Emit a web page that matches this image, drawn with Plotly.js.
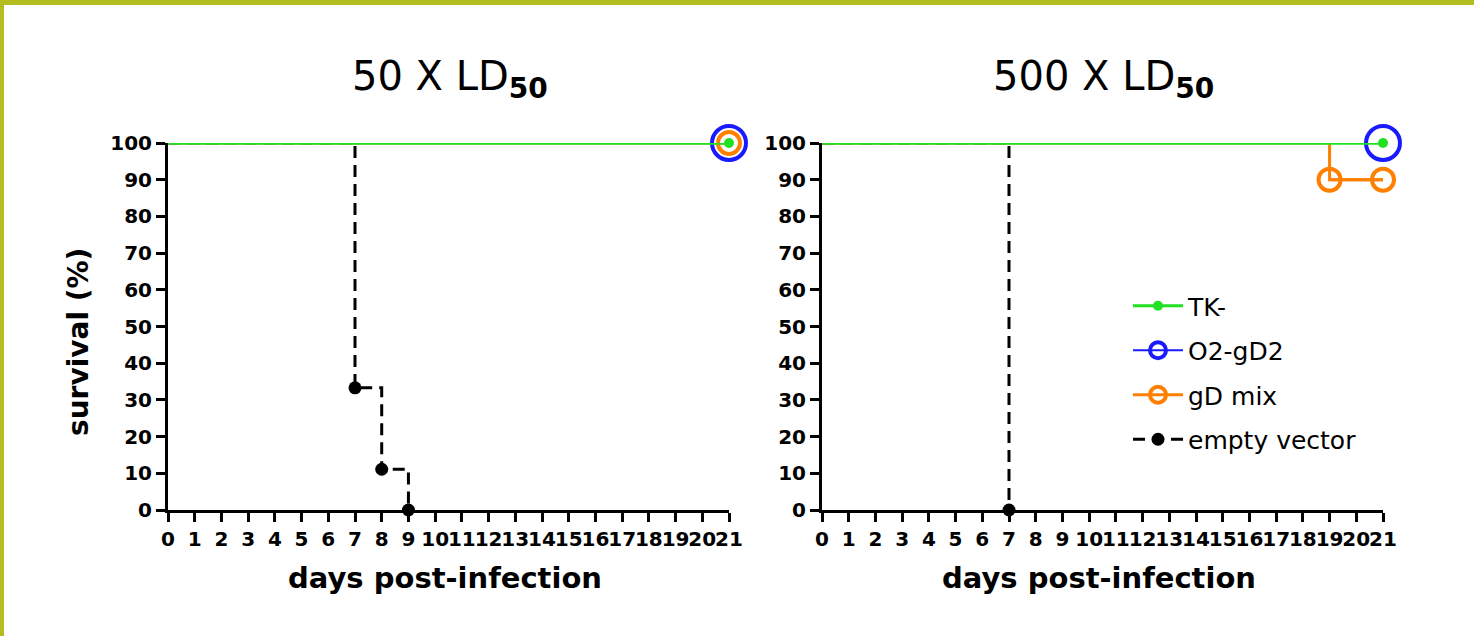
<!DOCTYPE html>
<html>
<head>
<meta charset="utf-8">
<script src="https://cdn.plot.ly/plotly-3.0.1.min.js"></script>
<style>
  html, body { margin: 0; padding: 0; background: #fff; }
  #wrap { position: relative; width: 1474px; height: 636px; overflow: hidden; }
  #chart { position: absolute; left: 0; top: 0; width: 1474px; height: 636px; }
  #bt { position: absolute; left: 0; top: 0; width: 1474px; height: 5px; background: #b3bd1f; }
  #bl { position: absolute; left: 0; top: 0; width: 4px; height: 636px; background: #b3bd1f; }
</style>
</head>
<body>
<div id="wrap"><div id="chart"></div><div id="bt"></div><div id="bl"></div></div>
<script>
// ---- data ----
const panelTitles = ["50 X LD<sub><b>50</b></sub>", "500 X LD<sub><b>50</b></sub>"];
const xTitle = "days post-infection";
const yTitle = "survival (%)";

// 50 X LD50
const tkDaysA = [0, 21];       const tkSurvA = [100, 100];
const o2DaysA = [0, 21];       const o2SurvA = [100, 100];
const gdDaysA = [0, 21];       const gdSurvA = [100, 100];
const evDaysA = [0, 7, 8, 9];  const evSurvA = [100, 33.3, 11.1, 0];

// 500 X LD50
const tkDaysB = [0, 21];       const tkSurvB = [100, 100];
const o2DaysB = [0, 21];       const o2SurvB = [100, 100];
const gdDaysB = [0, 19, 21];   const gdSurvB = [100, 90, 90];
const evDaysB = [0, 7];        const evSurvB = [100, 0];

const xTicks = [0,1,2,3,4,5,6,7,8,9,10,11,12,13,14,15,16,17,18,19,20,21];
const yTicks = [0, 10, 20, 30, 40, 50, 60, 70, 80, 90, 100];

// ---- styles ----
const FONT = "'DejaVu Sans', Verdana, sans-serif";
const st = {
  "TK-":          {color: "#22e022", lw: 3.5, dash: "solid",    sym: "circle",      ms: 10, mlw: 0, rank: 1},
  "O2-gD2":       {color: "#1a1aff", lw: 2,   dash: "solid",    sym: "circle-open", ms: 34, mlw: 4, rank: 2},
  "gD mix":       {color: "#ff8000", lw: 3,   dash: "solid",    sym: "circle-open", ms: 22, mlw: 4, rank: 3},
  "empty vector": {color: "#000000", lw: 3,   dash: "12px,7px", sym: "circle",      ms: 13, mlw: 0, rank: 4}
};

function series(name, xs, ys, xa, ya, showLeg) {
  const s = st[name];
  const grp = showLeg ? name : undefined;
  const line = {
    type: "scatter", mode: "lines", x: xs, y: ys, xaxis: xa, yaxis: ya,
    name: name, showlegend: false, legendrank: s.rank, legendgroup: grp,
    line: {color: s.color, width: s.lw, dash: s.dash, shape: "hv"},
    cliponaxis: false, hoverinfo: "skip"
  };
  const mk = {
    type: "scatter", mode: showLeg ? "lines+markers" : "markers",
    x: xs.slice(1), y: ys.slice(1), xaxis: xa, yaxis: ya,
    name: name, showlegend: showLeg, legendrank: s.rank, legendgroup: grp,
    line: {color: s.color, width: Math.min(s.lw, 3), dash: s.dash, shape: "hv"},
    marker: {symbol: s.sym, size: s.ms, color: s.color, line: {color: s.color, width: s.mlw}},
    cliponaxis: false
  };
  return [line, mk];
}

// drawing order: black first (bottom), green last (top)
const traces = [].concat(
  series("empty vector", evDaysA, evSurvA, "x", "y", false),
  series("gD mix", gdDaysA, gdSurvA, "x", "y", false),
  series("O2-gD2", o2DaysA, o2SurvA, "x", "y", false),
  series("TK-", tkDaysA, tkSurvA, "x", "y", false),
  series("empty vector", evDaysB, evSurvB, "x2", "y2", true),
  series("gD mix", gdDaysB, gdSurvB, "x2", "y2", true),
  series("O2-gD2", o2DaysB, o2SurvB, "x2", "y2", true),
  series("TK-", tkDaysB, tkSurvB, "x2", "y2", true)
);

const W = 1474, H = 636;
const px = v => v / W, py = v => 1 - v / H;

function xAxis(dom, anchor) {
  return {
    domain: dom, anchor: anchor, range: [0, 21], tickvals: xTicks, ticktext: xTicks.map(String),
    tickangle: 0,
    showgrid: false, zeroline: false, showline: true, linecolor: "#000", linewidth: 3,
    ticks: "outside", ticklen: 9, tickwidth: 3, tickcolor: "#000",
    tickfont: {family: FONT, size: 20, color: "#000", weight: "bold"},
    fixedrange: true
  };
}
function yAxis(anchor) {
  return {
    domain: [py(510), py(143)], anchor: anchor, range: [0, 100], tickvals: yTicks,
    showgrid: false, zeroline: false, showline: true, linecolor: "#000", linewidth: 3,
    ticks: "outside", ticklen: 9, tickwidth: 3, tickcolor: "#000",
    tickfont: {family: FONT, size: 20, color: "#000", weight: "bold"},
    fixedrange: true
  };
}

const ann = (text, x, y, size, bold, angle) => ({
  text: bold ? "<b>" + text + "</b>" : text, xref: "paper", yref: "paper",
  x: px(x), y: py(y), xanchor: "center", yanchor: "middle", showarrow: false,
  textangle: angle || 0, font: {family: FONT, size: size, color: "#000"}
});

const layout = {
  width: W, height: H,
  margin: {l: 0, r: 0, t: 0, b: 0},
  paper_bgcolor: "#fff", plot_bgcolor: "rgba(0,0,0,0)",
  showlegend: true,
  xaxis: xAxis([px(168), px(729)], "y"),
  yaxis: yAxis("x"),
  xaxis2: xAxis([px(822), px(1383)], "y2"),
  yaxis2: yAxis("x2"),
  legend: {
    x: px(1128), y: py(283), xanchor: "left", yanchor: "top",
    font: {family: FONT, size: 25, color: "#000"},
    traceorder: "grouped", tracegroupgap: 9, bgcolor: "rgba(0,0,0,0)",
    itemsizing: "trace", itemwidth: 50
  },
  annotations: [
    ann(panelTitles[0], 450, 79, 40, false),
    ann(panelTitles[1], 1103, 79, 40, false),
    ann(xTitle, 445, 578, 29, true),
    ann(xTitle, 1099, 578, 29, true),
    ann(yTitle, 78, 342, 28, true, -90)
  ]
};

Plotly.newPlot("chart", traces, layout, {displayModeBar: false, staticPlot: true});
</script>
</body>
</html>
